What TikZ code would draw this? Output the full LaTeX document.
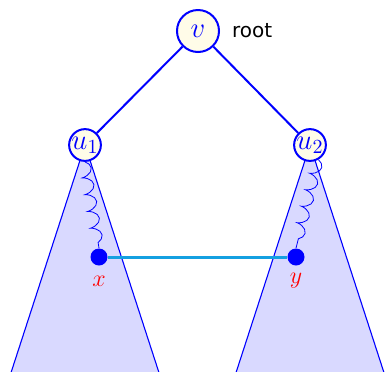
\documentclass[tikz,border=0pt]{standalone}
\usepackage{fontspec}
\newfontfamily\rootfont{DejaVu Sans}
\usetikzlibrary{decorations.pathmorphing}
\definecolor{nodefill}{RGB}{255,252,232}
\definecolor{linkcol}{RGB}{20,160,225}
\tikzset{
  vert/.style={circle, draw=blue, line width=1pt, fill=nodefill, inner sep=0pt, text=blue},
  tree/.style={fill=blue!15, draw=blue, line width=0.55pt},
  dotnode/.style={circle, fill=blue, inner sep=0pt, minimum size=8.5pt},
  lab/.style={text=red, font=\large},
  coilline/.style={blue, line width=0.4pt, decorate, decoration={coil, amplitude=2.6pt, segment length=8.5pt}}
}
\begin{document}
\begin{tikzpicture}[x=0.5pt,y=-0.5pt]
\useasboundingbox (0,0) rectangle (386,371);
\begin{scope}
\clip (0,0) rectangle (386,371);
\path[tree] (85,145) -- (7,385) -- (163,385) -- cycle;
\path[tree] (310,145) -- (232,385) -- (388,385) -- cycle;
\end{scope}
\node[vert, minimum size=21pt, font=\Large] (v) at (198,31) {$v$};
\node[right=2.5pt, font=\rootfont\fontsize{10}{12}\selectfont] (root) at (v.east) {root};
\node[vert, minimum size=15pt, font=\Large] (u1) at (85,145) {$u_1$};
\node[vert, minimum size=15pt, font=\Large] (u2) at (310,145) {$u_2$};
\draw[blue, line width=1pt] (v) -- (u1);
\draw[blue, line width=1pt] (v) -- (u2);
\node[dotnode] (x) at (99,257) {};
\node[dotnode] (y) at (296,257) {};
\draw[linkcol, line width=1.5pt] (x) -- (y);
\node[lab] (xl) at (99,281) {$x$};
\node[lab] (yl) at (296,281) {$y$};
\draw[coilline] (u1.south) -- (x.north);
\draw[coilline] (u2.-60) -- (y.north);
\end{tikzpicture}
\end{document}
